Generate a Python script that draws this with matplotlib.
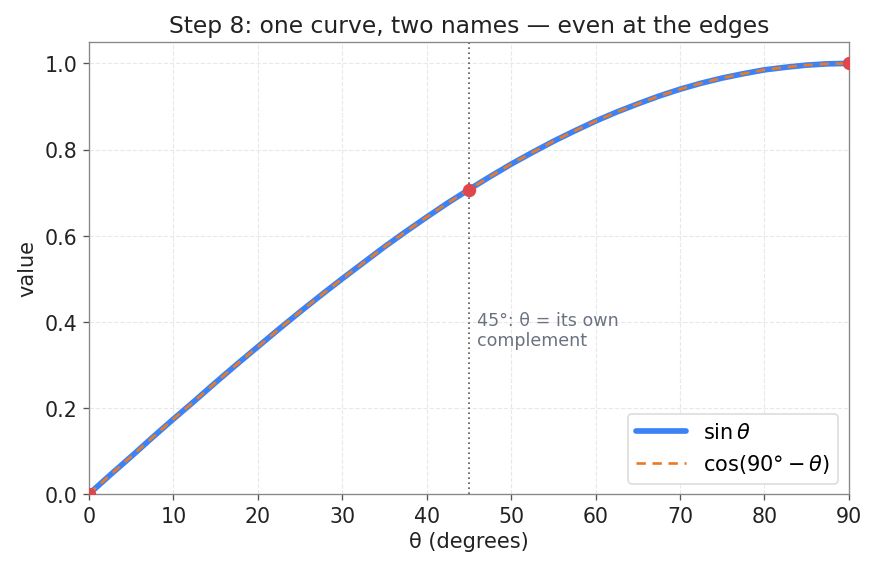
import matplotlib
matplotlib.use("Agg")
import matplotlib.pyplot as plt

# Values (degrees -> value), every 2.5 degrees
theta_deg = [0, 2.5, 5, 7.5, 10, 12.5, 15, 17.5, 20, 22.5, 25, 27.5, 30, 32.5, 35,
             37.5, 40, 42.5, 45, 47.5, 50, 52.5, 55, 57.5, 60, 62.5, 65, 67.5, 70,
             72.5, 75, 77.5, 80, 82.5, 85, 87.5, 90]
sin_vals = [0.0, 0.044, 0.087, 0.131, 0.174, 0.216, 0.259, 0.301, 0.342, 0.383,
            0.423, 0.462, 0.5, 0.537, 0.574, 0.609, 0.643, 0.676, 0.707, 0.737,
            0.766, 0.793, 0.819, 0.843, 0.866, 0.887, 0.906, 0.924, 0.940, 0.954,
            0.966, 0.976, 0.985, 0.991, 0.996, 0.999, 1.0]
cos_comp_vals = list(sin_vals)
marker_deg = [0, 45, 90]
marker_vals = [0.0, 0.707, 1.0]

fig, ax = plt.subplots(figsize=(7.3, 4.758), dpi=120)
fig.subplots_adjust(left=0.1015, right=0.969, top=0.925, bottom=0.133)

ax.plot(theta_deg, sin_vals, color="#3b82f6", lw=3.4, label=r"$\sin\theta$", zorder=3,
        solid_joinstyle="round", solid_capstyle="round")
ax.plot(theta_deg, cos_comp_vals, color="#ea7a25", lw=1.6, ls=(0, (3.5, 2.5)),
        label=r"$\cos(90° - \theta)$", zorder=4, dash_joinstyle="round")
ax.plot(marker_deg, marker_vals, "o", color="#e0474c", ms=7, zorder=5)

ax.axvline(45, color="#555555", lw=1.0, ls=(0, (1, 2)), zorder=2)
ax.text(46, 0.38, "45°: θ = its own\ncomplement", color="#6b7280", fontsize=10.5,
        va="center", ha="left", linespacing=1.15)

ax.set_xlim(0, 90)
ax.set_ylim(0, 1.05)
ax.set_xticks(range(0, 91, 10))
ax.set_yticks([0, 0.2, 0.4, 0.6, 0.8, 1.0])
ax.grid(True, color="#e8e8e8", ls="--", lw=0.7)
ax.set_axisbelow(True)
for s in ax.spines.values():
    s.set_color("#888888")
ax.tick_params(colors="#555555", labelcolor="#222222", labelsize=12.3)
ax.set_xlabel("θ (degrees)", fontsize=12.5, color="#222222", labelpad=3)
ax.set_ylabel("value", fontsize=12.5, color="#222222")
ax.set_title("Step 8: one curve, two names — even at the edges", fontsize=14, color="#222222")
leg = ax.legend(loc="lower right", fontsize=12.5, framealpha=1, edgecolor="#dddddd",
                handlelength=2.4)

fig.savefig("out.png", dpi=120)
